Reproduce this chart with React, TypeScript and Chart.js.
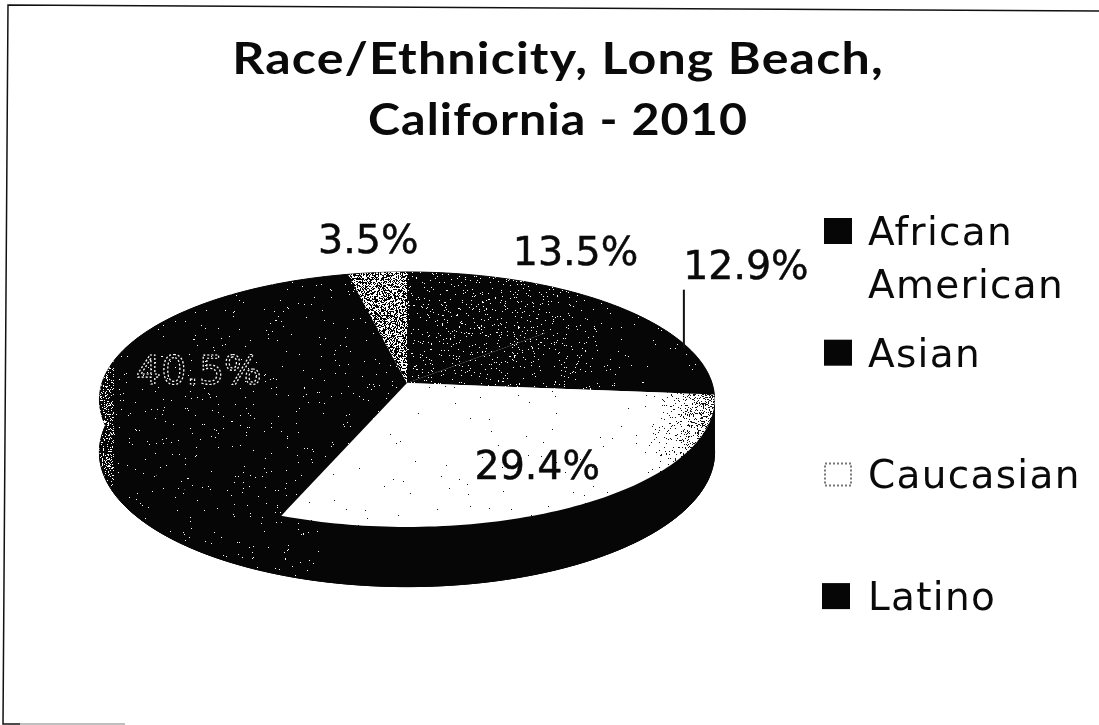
import React, { useEffect, useRef } from "react";
import { Chart, registerables } from "chart.js";

Chart.register(...registerables);

// ---- data ----
const titleLines = ["Race/Ethnicity, Long Beach,", "California - 2010"];
const legendLabels = [["African", "American"], ["Asian"], ["Caucasian"], ["Latino"]];
const sliceLabels = ["African American", "Asian", "Caucasian", "Latino", ""];
const sliceValues = [13.5, 12.9, 29.4, 40.5, 3.5];
const valueLabels = ["13.5%", "12.9%", "29.4%", "40.5%", "3.5%"];

// ---- look ----
const WIDTH = 1099;
const HEIGHT = 725;
const TILT = 0.411;
const PERSPECTIVE = 0.129;
const DEPTH = 52;
const labelOffsets = [[56, -16], [60, -67], [-50, -24], [93, 10], [-9, -20]];
const titleStretch = [1.14, 1.1];
const INK = "#060606";

function noise(x: number, y: number) {
  let h = (Math.imul(x, 73856093) ^ Math.imul(y, 19349663)) >>> 0;
  h = Math.imul(h ^ (h >>> 13), 1274126177) >>> 0;
  return ((h ^ (h >>> 16)) >>> 0) % 1000 / 1000;
}

function speckle(
  ctx: CanvasRenderingContext2D,
  bg: string,
  fg: string,
  density: (x: number, y: number) => number
) {
  const c = document.createElement("canvas");
  c.width = WIDTH;
  c.height = HEIGHT;
  const g = c.getContext("2d")!;
  g.fillStyle = bg;
  g.fillRect(0, 0, WIDTH, HEIGHT);
  g.fillStyle = fg;
  for (let y = 0; y < HEIGHT; y++) {
    for (let x = 0; x < WIDTH; x++) {
      if (noise(x, y) < density(x, y)) g.fillRect(x, y, 1, 1);
    }
  }
  return ctx.createPattern(c, "no-repeat")!;
}

const piePlugin = {
  id: "tiltedPie",
  beforeDatasetsDraw(chart: any) {
    const ctx: CanvasRenderingContext2D = chart.ctx;
    const arcs = chart.getDatasetMeta(0).data;
    const project = (arc: any, a: number, r: number, drop = 0) => {
      const u = Math.cos(a);
      const v = Math.sin(a);
      const d = 1 - PERSPECTIVE * v;
      return [arc.x + (r * u) / d, arc.y + (r * TILT * v + drop) / d];
    };
    const edge = (arc: any, r: number, drop: number, reverse: boolean) => {
      const n = 90;
      const pts = [];
      for (let i = 0; i <= n; i++) {
        const t = arc.startAngle + ((arc.endAngle - arc.startAngle) * i) / n;
        pts.push(project(arc, t, r, drop));
      }
      if (reverse) pts.reverse();
      return pts;
    };

    const darkFill = speckle(ctx, INK, "#ffffff", (x) => 0.007 + (x < 114 ? 0.2 : 0));
    const richFill = speckle(ctx, INK, "#ffffff", (x) =>
      0.004 + 0.032 * Math.max(0, Math.min(1, (640 - x) / 120))
    );
    const asianFill = speckle(ctx, "#ffffff", "#000000", () => 0.5);
    const whiteFill = speckle(ctx, "#ffffff", "#111111", (x) => {
      const t = Math.max(0, (x - 620) / 94);
      return 0.002 + 0.42 * t * t * t;
    });
    const fills = [richFill, richFill, whiteFill, darkFill, asianFill];

    ctx.save();
    arcs.forEach((arc: any) => {
      [arc.outerRadius, arc.outerRadius * 0.97].forEach((upper) => {
        const pts = [...edge(arc, upper, 0, false), ...edge(arc, arc.outerRadius, DEPTH, true)];
        ctx.beginPath();
        pts.forEach(([x, y], k) => (k ? ctx.lineTo(x, y) : ctx.moveTo(x, y)));
        ctx.closePath();
        ctx.fillStyle = INK;
        ctx.fill();
        ctx.strokeStyle = INK;
        ctx.lineWidth = 1;
        ctx.stroke();
      });
    });
    arcs.forEach((arc: any, i: number) => {
      ctx.beginPath();
      ctx.moveTo(arc.x, arc.y);
      edge(arc, arc.outerRadius, 0, false).forEach(([x, y]) => ctx.lineTo(x, y));
      ctx.closePath();
      ctx.fillStyle = fills[i];
      ctx.fill();
    });

    // sparse scan specks on the rim, the same texture as the dark slice
    ctx.fillStyle = darkFill;
    arcs.slice(2, 4).forEach((arc: any) => {
      const pts = [
        ...edge(arc, arc.outerRadius, 2, false),
        ...edge(arc, arc.outerRadius, DEPTH - 1, true),
      ];
      ctx.beginPath();
      pts.forEach(([x, y], k) => (k ? ctx.lineTo(x, y) : ctx.moveTo(x, y)));
      ctx.closePath();
      ctx.save();
      ctx.clip();
      ctx.fillRect(0, 0, 330, HEIGHT);
      ctx.restore();
    });

    // value labels and the leader line of the second slice
    ctx.font = "39.5px 'DejaVu Sans'";
    ctx.textAlign = "center";
    ctx.textBaseline = "alphabetic";
    arcs.forEach((arc: any, i: number) => {
      const [mx, my] = project(arc, (arc.startAngle + arc.endAngle) / 2, arc.outerRadius);
      const [dx, dy] = labelOffsets[i];
      if (i === 1) {
        ctx.strokeStyle = "#111";
        ctx.lineWidth = 2;
        ctx.beginPath();
        ctx.moveTo(mx - 2, my + 3);
        ctx.lineTo(mx - 2, my - 56);
        ctx.stroke();
      }
      if (i === 3) {
        ctx.strokeStyle = "#ffffff";
        ctx.lineWidth = 1.2;
        ctx.setLineDash([2, 2]);
        ctx.strokeText(valueLabels[i], mx + dx, my + dy);
        ctx.setLineDash([]);
      } else {
        ctx.fillStyle = "#0a0a0a";
        ctx.strokeStyle = "#0a0a0a";
        ctx.lineWidth = 0.5;
        ctx.fillText(valueLabels[i], mx + dx, my + dy);
        ctx.strokeText(valueLabels[i], mx + dx, my + dy);
      }
    });
    ctx.restore();
    return false;
  },
  afterDraw(chart: any) {
    const ctx: CanvasRenderingContext2D = chart.ctx;
    ctx.save();

    // scanned frame
    ctx.strokeStyle = "#111";
    ctx.lineWidth = 1.5;
    ctx.beginPath();
    ctx.moveTo(1099, 11);
    ctx.lineTo(8, 5);
    ctx.lineTo(3, 724);
    ctx.lineTo(20, 724);
    ctx.stroke();
    ctx.strokeStyle = "#aaa";
    ctx.beginPath();
    ctx.moveTo(20, 724);
    ctx.lineTo(125, 724);
    ctx.stroke();

    // title
    ctx.fillStyle = "#0a0a0a";
    ctx.textAlign = "center";
    ctx.textBaseline = "alphabetic";
    ctx.font = "bold 44px Lato";
    (ctx as any).letterSpacing = "1px";
    titleLines.forEach((line, i) => {
      ctx.save();
      ctx.translate(558, 74 + i * 61);
      ctx.scale(titleStretch[i], 1);
      ctx.fillText(line, 0, 0);
      ctx.restore();
    });

    // legend
    ctx.textAlign = "left";
    ctx.font = "39px 'DejaVu Sans'";
    (ctx as any).letterSpacing = "1.3px";
    legendLabels.forEach((lines, i) => {
      const base = 245 + i * 121.7;
      if (i === 2) {
        ctx.strokeStyle = "#777";
        ctx.lineWidth = 2;
        ctx.setLineDash([2, 2]);
        ctx.strokeRect(825, base - 25, 26, 22);
        ctx.setLineDash([]);
      } else {
        ctx.fillStyle = INK;
        ctx.fillRect(824 - (i === 3 ? 2 : 0), base - 27, 28, 26);
      }
      ctx.fillStyle = "#0a0a0a";
      lines.forEach((t, k) => ctx.fillText(t, 868, base + k * 53));
    });
    (ctx as any).letterSpacing = "0px";
    ctx.restore();
  },
};

export default function App() {
  const ref = useRef<HTMLCanvasElement | null>(null);
  useEffect(() => {
    document.body.style.margin = "0";
    const chart = new Chart(ref.current!, {
      type: "pie",
      data: {
        labels: sliceLabels,
        datasets: [{ data: sliceValues, borderWidth: 0 }],
      },
      options: {
        responsive: false,
        animation: false,
        events: [],
        layout: { padding: { left: 102, right: 387, top: 78, bottom: 37 } },
        plugins: { legend: { display: false }, title: { display: false }, tooltip: { enabled: false } },
      },
      plugins: [piePlugin],
    } as any);
    return () => chart.destroy();
  }, []);
  return (
    <div style={{ width: WIDTH, height: HEIGHT, background: "#fff", overflow: "hidden" }}>
      <canvas ref={ref} width={WIDTH} height={HEIGHT} style={{ display: "block" }} />
    </div>
  );
}
